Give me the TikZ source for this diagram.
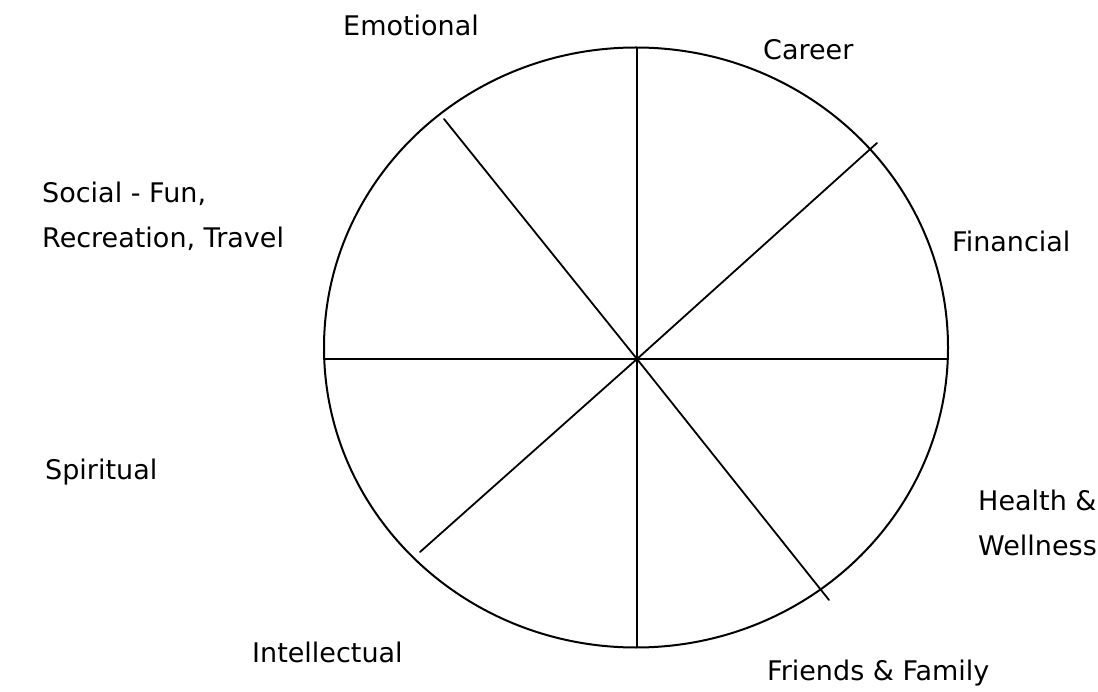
\documentclass[tikz,border=0pt]{standalone}
\usepackage{fontspec}
\setmainfont{DejaVu Sans}
\usepackage{tikz}
\tikzset{
  every picture/.style={
    line join=round,
    line cap=round,
  },
  rim/.style={line width=2pt},
  spoke/.style={line width=1.8pt},
  area/.style={font=\fontsize{27}{45}\selectfont, inner sep=0pt, align=left},
}

\begin{document}
\begin{tikzpicture}[x=1pt,y=-1pt]
\useasboundingbox (0,0) rectangle (1098,692);
% the wheel
\draw[rim] (636,347.5) ellipse [x radius=312, y radius=300];
\coordinate (hub) at (637,359);
\coordinate (top) at (637,48);
\coordinate (bottom) at (637,647);
\coordinate (left) at (324,359);
\coordinate (right) at (948,359);
\coordinate (ne) at (877,143);
\coordinate (se) at (829,600);
\coordinate (sw) at (420,552);
\coordinate (nw) at (444,119);
\draw[spoke] (top)--(bottom);
\draw[spoke] (left)--(right);
\draw[spoke] (hub)--(ne);
\draw[spoke] (hub)--(se);
\draw[spoke] (hub)--(sw);
\draw[spoke] (hub)--(nw);
% the labels round it (base = last line)
\node[area,anchor=base west] (emotional) at (343,36) {Emotional};
\node[area,anchor=base west] (career) at (763,60) {Career};
\node[area,anchor=base west] (social) at (42,248) {Social - Fun,\\Recreation, Travel};
\node[area,anchor=base west] (financial) at (952,252) {Financial};
\node[area,anchor=base west] (spiritual) at (45,479) {Spiritual};
\node[area,anchor=base west] (health) at (978,555) {Health \&\\Wellness};
\node[area,anchor=base west] (intellectual) at (252,662) {Intellectual};
\node[area,anchor=base west] (friends) at (767,680) {Friends \& Family};
\end{tikzpicture}
\end{document}
